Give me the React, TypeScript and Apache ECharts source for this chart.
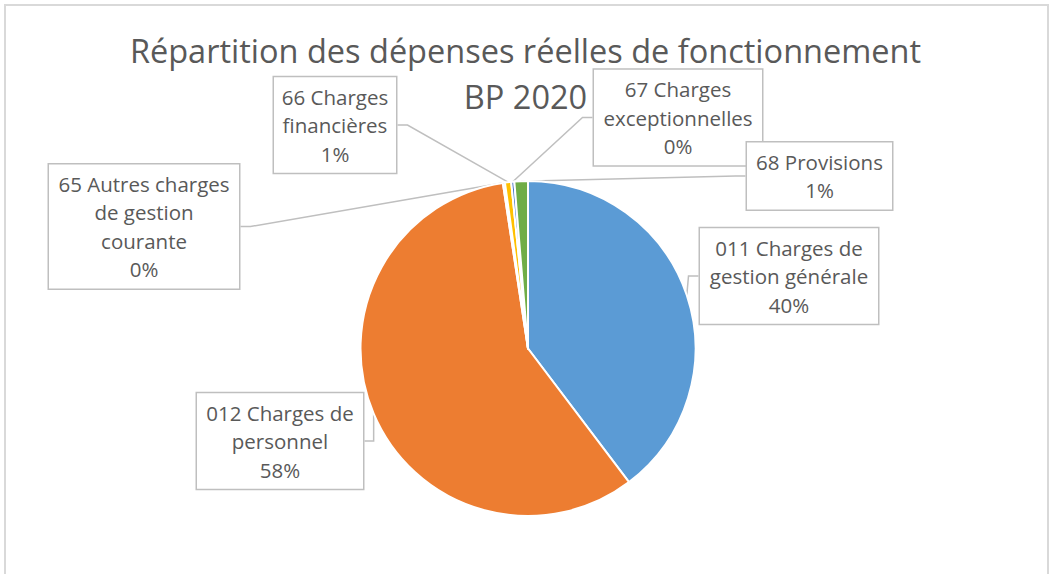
import React, { useEffect, useRef } from "react";
import * as echarts from "echarts";

// ---- data ----
const categories = [
  "011 Charges de\ngestion générale",
  "012 Charges de\npersonnel",
  "65 Autres charges\nde gestion\ncourante",
  "66 Charges\nfinancières",
  "67 Charges\nexceptionnelles",
  "68 Provisions",
];
const shares = [39.7, 57.9, 0.2, 0.6, 0.3, 1.3];
const colors = ["#5B9BD5", "#ED7D31", "#A5A5A5", "#FFC000", "#4472C4", "#70AD47"];
const titleText = "Répartition des dépenses réelles de fonctionnement\nBP 2020";

// ---- label box layout (centre x, centre y, outer width) ----
const labelCenters = [
  [789, 276],
  [280, 441],
  [144, 226.5],
  [335, 125],
  [678, 117.5],
  [819.5, 176],
];
const labelWidths = [180, 168, 192, 124, 170, 147];

export default function App() {
  const ref = useRef<HTMLDivElement>(null);
  useEffect(() => {
    if (!ref.current) return;
    const chart = echarts.init(ref.current, null, { renderer: "svg" });
    const padH = 6;
    const padV = 5;
    const data = categories.map((name, i) => ({
      name,
      value: shares[i],
      itemStyle: { color: colors[i] },
      label: { width: labelWidths[i] - 2 * padH - 2 },
    }));
    chart.setOption({
      animation: false,
      backgroundColor: "#ffffff",
      title: {
        text: titleText,
        left: "center",
        top: 22,
        textStyle: {
          fontFamily: "Open Sans",
          fontSize: 32.5,
          fontWeight: "normal",
          color: "#595959",
          lineHeight: 46.5,
        },
      },
      graphic: [
        {
          type: "rect",
          shape: { x: 5, y: 5, width: 1043, height: 620 },
          style: { fill: "none", stroke: "#d9d9d9", lineWidth: 2 },
          silent: true,
        },
      ],
      series: [
        {
          type: "pie",
          center: [528, 348.5],
          radius: 167.5,
          startAngle: 90,
          clockwise: true,
          avoidLabelOverlap: false,
          itemStyle: { borderColor: "#ffffff", borderWidth: 2 },
          label: {
            show: true,
            formatter: (p: any) => `${p.name}\n${Math.round(p.percent)}%`,
            fontFamily: "Open Sans",
            fontSize: 20.5,
            color: "#595959",
            lineHeight: 28.5,
            backgroundColor: "#ffffff",
            borderColor: "#bfbfbf",
            borderWidth: 1.5,
            padding: [padV, padH],
            align: "center",
            overflow: "none",
          },
          labelLine: {
            show: true,
            length: 10,
            length2: 10,
            lineStyle: { color: "#bfbfbf", width: 1.5 },
          },
          labelLayout: (params: any) => {
            const c = labelCenters[params.dataIndex];
            return { x: c[0], y: c[1], align: "center", verticalAlign: "middle" };
          },
          data,
        },
      ],
    });
    return () => chart.dispose();
  }, []);
  return (
    <div
      ref={ref}
      style={{ position: "fixed", left: 0, top: 0, width: 1051, height: 574 }}
    />
  );
}
